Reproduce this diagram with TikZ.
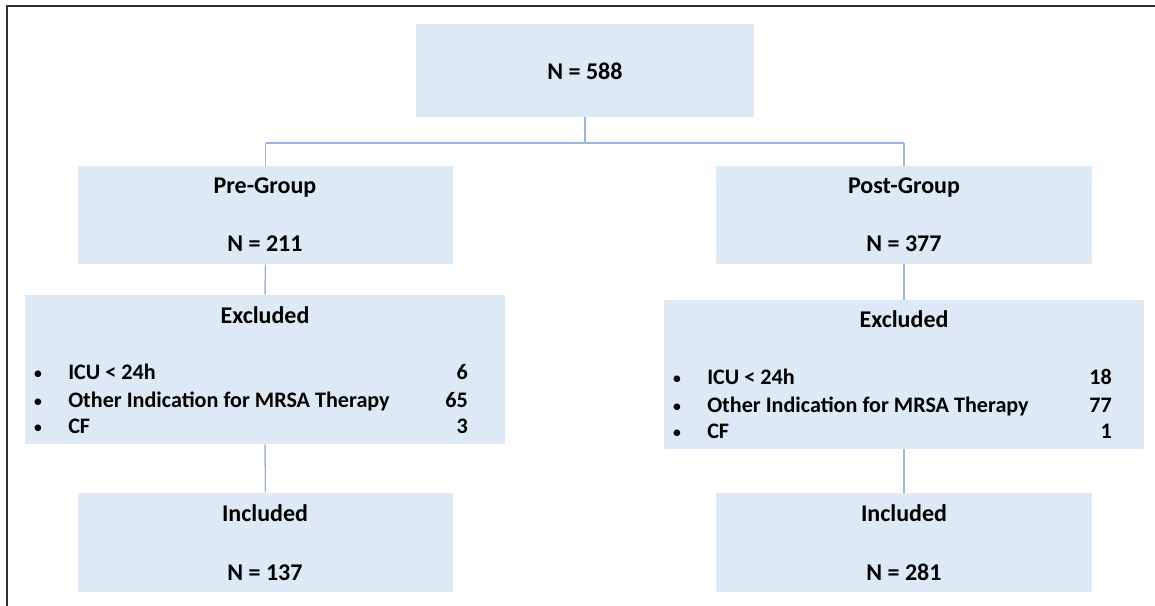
\documentclass[tikz,border=0pt]{standalone}
\usepackage{fontspec}
\setmainfont{Carlito}
\usetikzlibrary{fit}
\definecolor{boxfill}{HTML}{DDEAF6}
\definecolor{connc}{HTML}{9CB4DE}
\definecolor{framec}{HTML}{303030}
\begin{document}
\begin{tikzpicture}[x=0.75pt,y=-0.75pt,
  box/.style={fill=boxfill, draw=none, inner sep=0pt},
  conn/.style={draw=connc, line width=1.1pt},
  lbl/.style={anchor=base, inner sep=0pt, font=\fontsize{18}{22}\selectfont\bfseries},
  item/.style={anchor=base west, inner sep=0pt, font=\fontsize{16.6}{20}\selectfont\bfseries},
  num/.style={anchor=base east, inner sep=0pt, font=\fontsize{16.6}{20}\selectfont\bfseries},
  bul/.style={anchor=base, inner sep=0pt, font=\fontsize{14}{16}\selectfont}]
\useasboundingbox (0,0) rectangle (1155,606);
% frame
\draw[framec, line width=1.5pt] (7,606) -- (7,6) -- (1155,6);
% boxes
\node[box, fit={(416,24) (754,117)}] (top) {};
\node[box, fit={(78,166) (453,264)}] (pre) {};
\node[box, fit={(716,166) (1092,264)}] (post) {};
\node[box, fit={(25,295) (505,444)}] (exl) {};
\node[box, fit={(664,300) (1144,449)}] (exr) {};
\node[box, fit={(78,493) (453,592)}] (inl) {};
\node[box, fit={(716,493) (1092,592)}] (inr) {};
% connectors
\coordinate (jl) at (pre.north |- 0,143);
\coordinate (jr) at (post.north |- 0,143);
\draw[conn] (top.south) -- (top.south |- jl);
\draw[conn] (jl) -- (jr);
\draw[conn] (jl) -- (pre.north);
\draw[conn] (jr) -- (post.north);
\draw[conn] (pre.south) -- (exl.north);
\draw[conn] (post.south) -- (exr.north);
\draw[conn] (exl.south) -- (inl.north);
\draw[conn] (exr.south) -- (inr.north);
% texts
\node[lbl] (t588) at (585,80) {N = 588};
\node[lbl] (tpre) at (265,193) {Pre-Group};
\node[lbl] (t211) at (265,251) {N = 211};
\node[lbl] (tpost) at (904,193) {Post-Group};
\node[lbl] (t377) at (904,251) {N = 377};
% excluded left
\node[lbl] (texl) at (265,323) {Excluded};
\node[bul] (bl1) at (38,379) {•};
\node[bul] (bl2) at (38,407) {•};
\node[bul] (bl3) at (38,433) {•};
\node[item] (il1) at (68,379) {ICU < 24h};
\node[item] (il2) at (68,407) {Other Indication for MRSA Therapy};
\node[item] (il3) at (68,433) {CF};
\node[num] (nl1) at (468,379) {6};
\node[num] (nl2) at (468,407) {65};
\node[num] (nl3) at (468,433) {3};
% excluded right
\node[lbl] (texr) at (904,327) {Excluded};
\node[bul] (br1) at (677,384) {•};
\node[bul] (br2) at (677,412) {•};
\node[bul] (br3) at (677,438) {•};
\node[item] (ir1) at (707,384) {ICU < 24h};
\node[item] (ir2) at (707,412) {Other Indication for MRSA Therapy};
\node[item] (ir3) at (707,438) {CF};
\node[num] (nr1) at (1112,384) {18};
\node[num] (nr2) at (1112,412) {77};
\node[num] (nr3) at (1112,438) {1};
% included
\node[lbl] (tinl) at (265,521) {Included};
\node[lbl] (t137) at (265,580) {N = 137};
\node[lbl] (tinr) at (904,521) {Included};
\node[lbl] (t281) at (904,580) {N = 281};
\end{tikzpicture}
\end{document}
